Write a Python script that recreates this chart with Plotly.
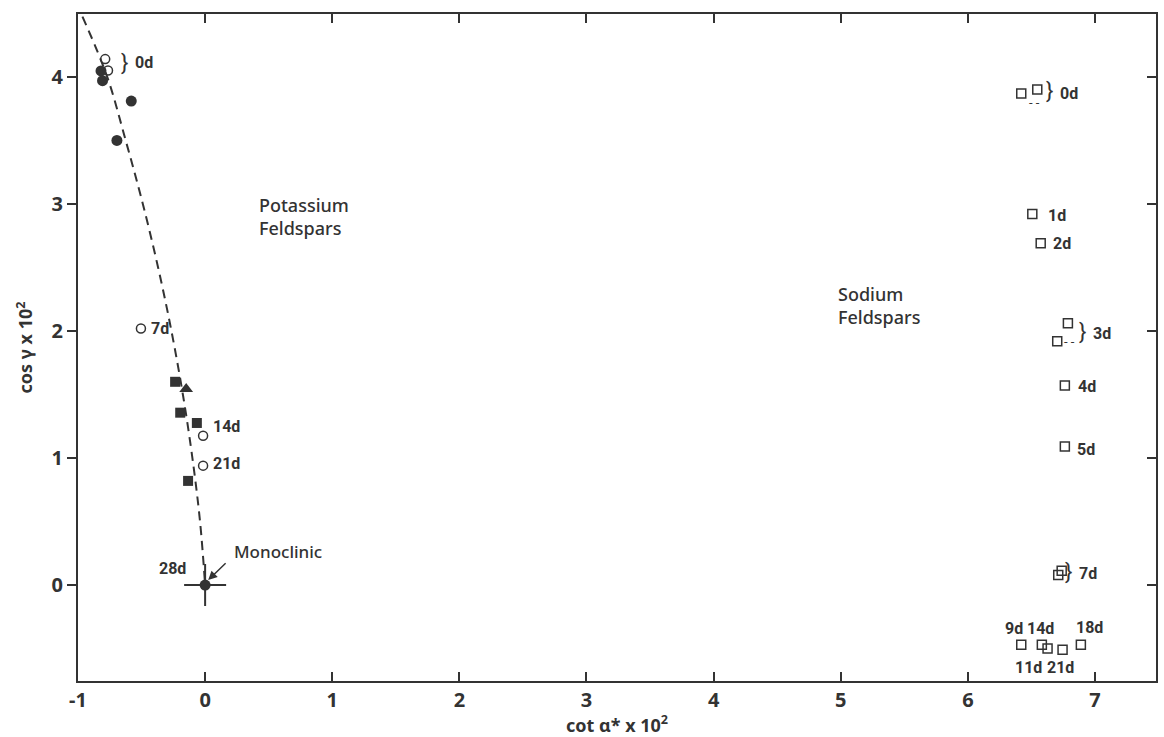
import plotly.graph_objects as go

INK = "#333333"

# Potassium feldspars
k_open_x = [-0.786, -0.764, -0.505, -0.016, -0.016]
k_open_y = [4.14, 4.05, 2.02, 1.175, 0.94]
k_fill_x = [-0.819, -0.807, -0.581, -0.694, 0.0]
k_fill_y = [4.047, 3.97, 3.81, 3.50, 0.0]
k_sq_x = [-0.236, -0.196, -0.065, -0.134]
k_sq_y = [1.60, 1.357, 1.276, 0.82]
k_tri_x = [-0.149]
k_tri_y = [1.543]
mono_x = [0.0]
mono_y = [0.0]

# Trend curve (dashed)
curve_x = [-0.965, -0.77, -0.625, -0.49, -0.37, -0.265, -0.175, -0.10, -0.04, 0.0]
curve_y = [4.475, 4.0, 3.5, 3.0, 2.5, 2.0, 1.5, 1.0, 0.5, 0.0]

# Sodium feldspars
na_x = [6.42, 6.546, 6.507, 6.573, 6.787, 6.703, 6.763, 6.763, 6.738, 6.711,
        6.42, 6.582, 6.627, 6.745, 6.889]
na_y = [3.87, 3.90, 2.92, 2.69, 2.06, 1.92, 1.57, 1.09, 0.113, 0.079,
        -0.47, -0.47, -0.50, -0.51, -0.47]

# Labels: (text, x, y, xanchor)
labels = [
    ("0d", -0.566, 4.11, "left"),
    ("7d", -0.44, 2.02, "left"),
    ("14d", 0.047, 1.247, "left"),
    ("21d", 0.047, 0.96, "left"),
    ("28d", -0.134, 0.134, "right"),
    ("0d", 6.712, 3.87, "left"),
    ("1d", 6.614, 2.91, "left"),
    ("2d", 6.651, 2.69, "left"),
    ("3d", 6.966, 1.98, "left"),
    ("4d", 6.85, 1.567, "left"),
    ("5d", 6.842, 1.07, "left"),
    ("7d", 6.862, 0.094, "left"),
    ("9d", 6.36, -0.339, "center"),
    ("14d", 6.575, -0.339, "center"),
    ("11d", 6.48, -0.646, "center"),
    ("21d", 6.732, -0.646, "center"),
    ("18d", 6.96, -0.33, "center"),
]
braces = [(-0.636, 4.11), (6.646, 3.89), (6.90, 1.995), (6.795, 0.11)]
dashes = [(6.528, 3.80), (6.80, 1.915)]

xticks = [-1, 0, 1, 2, 3, 4, 5, 6, 7]
yticks = [0, 1, 2, 3, 4]

LBL_FONT = "Roboto, DejaVu Sans, sans-serif"
TXT_FONT = "Noto Sans, DejaVu Sans, sans-serif"

fig = go.Figure()
fig.add_trace(go.Scatter(x=curve_x, y=curve_y, mode="lines",
                         line=dict(color=INK, width=2, dash="9px,6px", shape="spline"),
                         hoverinfo="skip"))
fig.add_trace(go.Scatter(x=mono_x, y=mono_y, mode="markers",
                         marker=dict(symbol="cross-thin", size=30, color=INK,
                                     line=dict(color=INK, width=2))))
fig.add_trace(go.Scatter(x=k_fill_x, y=k_fill_y, mode="markers",
                         marker=dict(symbol="circle", size=11, color=INK)))
fig.add_trace(go.Scatter(x=k_open_x, y=k_open_y, mode="markers",
                         marker=dict(symbol="circle-open", size=9, color=INK,
                                     line=dict(color=INK, width=1.5))))
fig.add_trace(go.Scatter(x=k_sq_x, y=k_sq_y, mode="markers",
                         marker=dict(symbol="square", size=10, color=INK)))
fig.add_trace(go.Scatter(x=k_tri_x, y=k_tri_y, mode="markers",
                         marker=dict(symbol="triangle-up", size=12, color=INK)))
fig.add_trace(go.Scatter(x=na_x, y=na_y, mode="markers",
                         marker=dict(symbol="square-open", size=9, color=INK,
                                     line=dict(color=INK, width=1.5))))
# invisible trace to activate right y axis
fig.add_trace(go.Scatter(x=[0], y=[0], yaxis="y2", mode="markers",
                         marker=dict(opacity=0), hoverinfo="skip"))

ann = []
for t, x, y, xa in labels:
    ann.append(dict(x=x, y=y, text=t, showarrow=False, xanchor=xa, yanchor="middle",
                    font=dict(family=LBL_FONT, size=16, color=INK, weight="bold")))
for x, y in braces:
    ann.append(dict(x=x, y=y, text="}", showarrow=False, xanchor="center", yanchor="middle",
                    font=dict(family=LBL_FONT, size=22, color=INK)))
for x, y in dashes:
    ann.append(dict(x=x, y=y, text="- -", showarrow=False, xanchor="center", yanchor="middle",
                    font=dict(family=LBL_FONT, size=13, color=INK)))
ann.append(dict(x=0.024, y=0.039, ax=0.173, ay=0.183, axref="x", ayref="y",
                text="", showarrow=True, arrowhead=2, arrowsize=1.2, arrowwidth=1.5,
                arrowcolor=INK))
ann.append(dict(x=0.21, y=0.262, text="Monoclinic", showarrow=False, xanchor="left",
                yanchor="middle", font=dict(family=TXT_FONT, size=17, color=INK, weight=500)))
ann.append(dict(x=0.41, y=2.90, text="Potassium<br>Feldspars", showarrow=False,
                xanchor="left", yanchor="middle", align="left",
                font=dict(family=TXT_FONT, size=18, color=INK, weight=500)))
ann.append(dict(x=4.965, y=2.20, text="Sodium<br>Feldspars", showarrow=False,
                xanchor="left", yanchor="middle", align="left",
                font=dict(family=TXT_FONT, size=18, color=INK, weight=500)))

fig.update_layout(
    width=1164, height=737,
    margin=dict(l=78, r=6, t=14, b=56),
    paper_bgcolor="white", plot_bgcolor="white",
    showlegend=False,
    annotations=ann,
    xaxis=dict(range=[-1, 7.48], tickvals=xticks, ticktext=[str(v) for v in xticks],
               ticks="inside", ticklen=9, tickwidth=1.5, tickcolor=INK,
               showline=True, linecolor=INK, linewidth=2, mirror="ticks",
               showgrid=False, zeroline=False,
               tickfont=dict(family=TXT_FONT, size=20, color=INK, weight="bold"),
               title=dict(text="cot α* x 10<sup>2</sup>", standoff=0,
                          font=dict(family=TXT_FONT, size=18, color=INK, weight="bold"))),
    yaxis=dict(range=[-0.755, 4.495], tickvals=yticks, ticktext=[str(v) for v in yticks],
               ticks="outside", ticklen=9, tickwidth=1.5, tickcolor=INK,
               showline=True, linecolor=INK, linewidth=2, mirror=True,
               showgrid=False, zeroline=False,
               tickfont=dict(family=TXT_FONT, size=20, color=INK, weight="bold"),
               title=dict(text="cos γ x 10<sup>2</sup>", standoff=14,
                          font=dict(family=TXT_FONT, size=18, color=INK, weight="bold"))),
    yaxis2=dict(range=[-0.755, 4.495], overlaying="y", side="right",
                tickvals=yticks, showticklabels=False,
                ticks="inside", ticklen=9, tickwidth=1.5, tickcolor=INK,
                showgrid=False, zeroline=False, showline=False),
)

fig.write_html("out.html")
